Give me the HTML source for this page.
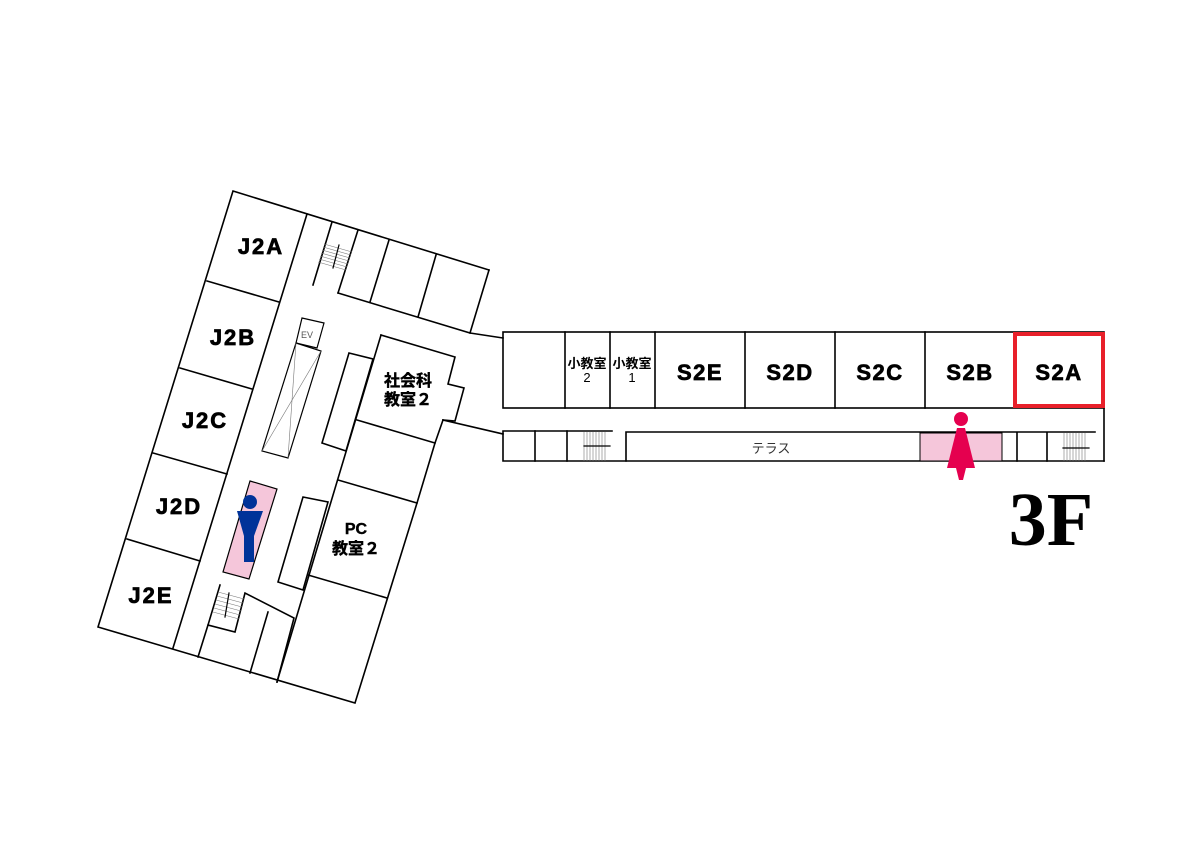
<!DOCTYPE html>
<html><head><meta charset="utf-8"><style>
html,body{margin:0;padding:0;background:#fff;}
svg{display:block;}
.l{stroke:#000;stroke-width:1.6;fill:none;stroke-linecap:square;}
.t{stroke:#777;stroke-width:0.6;fill:none;}
.b{font-family:"Liberation Sans","Noto Sans CJK JP",sans-serif;font-weight:bold;fill:#000;}
.k{stroke:#000;stroke-width:0.7;}
</style></head><body>
<svg width="1191" height="842" viewBox="0 0 1191 842" xmlns="http://www.w3.org/2000/svg">
<polyline class="l" points="489,270 233,191 98,627 355,703 417,503 435,443 443,420"/>
<polyline class="l" points="489,270 470,333 338,293"/>
<line class="l" x1="470" y1="333" x2="503" y2="338"/>
<line class="l" x1="443" y1="420" x2="503" y2="434"/>
<line class="l" x1="358" y1="230" x2="338" y2="293"/>
<line class="l" x1="389" y1="240" x2="370" y2="302"/>
<line class="l" x1="436" y1="255" x2="418" y2="317"/>
<line class="l" x1="332" y1="222" x2="313" y2="285"/>
<g class="t">
<line x1="324" y1="244" x2="352" y2="252"/><line x1="323" y1="247" x2="351" y2="255"/><line x1="322" y1="250" x2="350" y2="258"/><line x1="321" y1="253" x2="349" y2="261"/><line x1="320" y1="256" x2="348" y2="264"/><line x1="319" y1="259" x2="347" y2="267"/><line x1="318" y1="262" x2="346" y2="270"/>
</g>
<line class="l" x1="339" y1="245" x2="333" y2="268" style="stroke-width:1.2"/>
<line class="l" x1="307" y1="214" x2="173" y2="648"/>
<line class="l" x1="207" y1="281" x2="279" y2="302"/>
<line class="l" x1="180" y1="368" x2="252" y2="389"/>
<line class="l" x1="153" y1="453" x2="227" y2="474"/>
<line class="l" x1="127" y1="539" x2="200" y2="561"/>
<polyline class="l" points="381,335 455,357 448,384 464,388 455,421 443,420"/>
<line class="l" x1="381" y1="335" x2="277" y2="682"/>
<line class="l" x1="357" y1="420" x2="435" y2="443"/>
<line class="l" x1="338" y1="480" x2="417" y2="503"/>
<line class="l" x1="308" y1="575" x2="387" y2="598"/>
<polygon class="l" points="349,353 373,359 346,451 322,443"/>
<polygon class="l" points="303,497 328,502 303,590 278,582"/>
<polygon class="l" points="302,318 324,323 317,348 296,343" style="stroke-width:1.2"/>
<text x="301" y="338" font-family="Liberation Sans,sans-serif" font-size="9" fill="#555">EV</text>
<polygon class="l" points="296,343 321,351 288,458 262,451" style="stroke-width:1.2"/>
<line class="t" x1="296" y1="343" x2="288" y2="458"/><line class="t" x1="321" y1="351" x2="262" y2="451"/>
<polyline class="l" points="220,585 208,625 235,632 245,593 294,618 277,682"/>
<line class="l" x1="208" y1="625" x2="198" y2="657"/>
<line class="l" x1="268" y1="612" x2="250" y2="673"/>
<g class="t">
<line x1="218" y1="592" x2="244" y2="599"/><line x1="217" y1="596" x2="243" y2="603"/><line x1="216" y1="600" x2="242" y2="607"/><line x1="215" y1="604" x2="241" y2="611"/><line x1="214" y1="608" x2="240" y2="615"/><line x1="213" y1="612" x2="239" y2="619"/>
</g>
<line class="l" x1="229" y1="593" x2="225" y2="617" style="stroke-width:1.2"/>
<polygon points="250,481 277,489 249,579 223,572" fill="#f5c6da" stroke="#000" stroke-width="1.2"/>
<circle cx="250" cy="502" r="7" fill="#003399"/>
<polygon points="237,511 263,511 254,536 254,562 244,562 244,536" fill="#003399"/>
<g class="b k" font-size="22" text-anchor="middle" letter-spacing="2">
<text x="261" y="254">J2A</text>
<text x="233" y="345">J2B</text>
<text x="205" y="428">J2C</text>
<text x="179" y="514">J2D</text>
<text x="151" y="603">J2E</text>
</g>
<g class="b k" font-size="16" text-anchor="middle" style="stroke-width:0.4">
<text x="408" y="386">社会科</text>
<text x="408" y="405">教室２</text>
<text x="356" y="534">PC</text>
<text x="356" y="554">教室２</text>
</g>
<rect class="l" x="503" y="332" width="601" height="76"/>
<g class="l">
<line x1="565" y1="332" x2="565" y2="408"/><line x1="610" y1="332" x2="610" y2="408"/><line x1="655" y1="332" x2="655" y2="408"/><line x1="745" y1="332" x2="745" y2="408"/><line x1="835" y1="332" x2="835" y2="408"/><line x1="925" y1="332" x2="925" y2="408"/>
</g>
<line class="l" x1="1104" y1="408" x2="1104" y2="461"/>
<rect x="1015" y="334" width="88" height="72" fill="none" stroke="#e8202a" stroke-width="4"/>
<polyline class="l" points="612,431 503,431 503,461 1104,461"/>
<line class="l" x1="535" y1="431" x2="535" y2="461"/>
<line class="l" x1="567" y1="431" x2="567" y2="461"/>
<polyline class="l" points="626,461 626,432 1095,432"/>
<rect x="920" y="433" width="82" height="28" fill="#f5c6da" stroke="#000" stroke-width="1"/>
<line class="l" x1="1017" y1="433" x2="1017" y2="461"/>
<line class="l" x1="1047" y1="433" x2="1047" y2="461"/>
<g class="t">
<line x1="584" y1="432" x2="584" y2="461"/><line x1="587" y1="432" x2="587" y2="461"/><line x1="590" y1="432" x2="590" y2="461"/><line x1="593" y1="432" x2="593" y2="461"/><line x1="596" y1="432" x2="596" y2="461"/><line x1="599" y1="432" x2="599" y2="461"/><line x1="602" y1="432" x2="602" y2="461"/><line x1="605" y1="432" x2="605" y2="461"/>
<line x1="1064" y1="433" x2="1064" y2="461"/><line x1="1067" y1="433" x2="1067" y2="461"/><line x1="1070" y1="433" x2="1070" y2="461"/><line x1="1073" y1="433" x2="1073" y2="461"/><line x1="1076" y1="433" x2="1076" y2="461"/><line x1="1079" y1="433" x2="1079" y2="461"/><line x1="1082" y1="433" x2="1082" y2="461"/><line x1="1085" y1="433" x2="1085" y2="461"/>
</g>
<line class="l" x1="584" y1="446" x2="610" y2="446" style="stroke-width:1.2"/>
<line class="l" x1="1063" y1="448" x2="1089" y2="448" style="stroke-width:1.2"/>
<text x="771" y="453" text-anchor="middle" font-family="Liberation Sans,'Noto Sans CJK JP',sans-serif" font-size="13" fill="#333">テラス</text>
<circle cx="961" cy="419" r="7" fill="#e5004f"/>
<polygon points="957,428 965,428 975,468 966,468 963,480 959,480 956,468 947,468" fill="#e5004f"/>
<g class="b" font-size="13" text-anchor="middle">
<text x="587" y="368">小教室</text>
<text x="587" y="382" font-weight="normal">2</text>
<text x="632" y="368">小教室</text>
<text x="632" y="382" font-weight="normal">1</text>
</g>
<g class="b k" font-size="22" text-anchor="middle" letter-spacing="1.5">
<text x="700" y="380">S2E</text>
<text x="790" y="380">S2D</text>
<text x="880" y="380">S2C</text>
<text x="970" y="380">S2B</text>
<text x="1059" y="380">S2A</text>
</g>
<text x="1051" y="545" text-anchor="middle" font-family="Liberation Serif,serif" font-weight="bold" font-size="76">3F</text>
</svg>
</body></html>
